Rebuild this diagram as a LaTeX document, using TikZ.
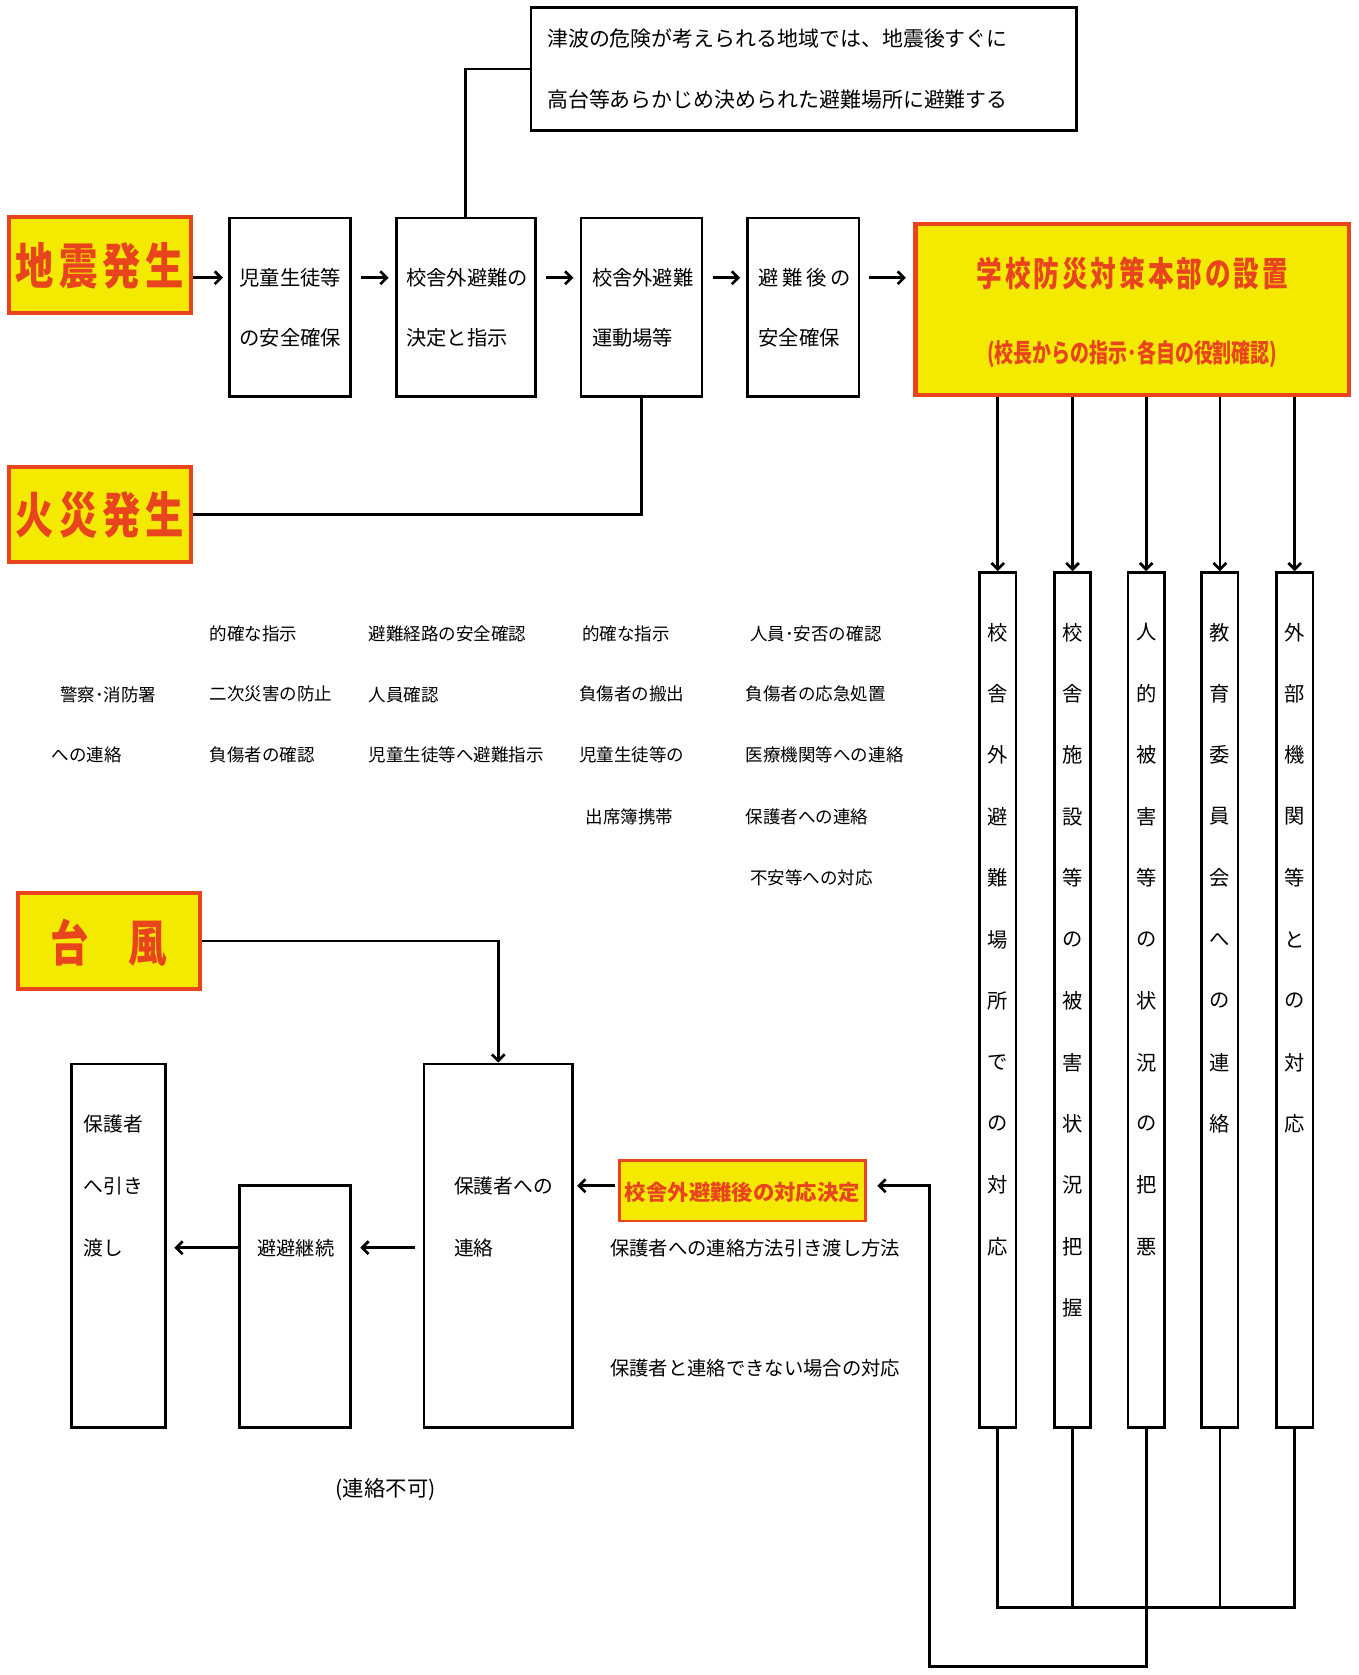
\documentclass[tikz,border=0pt]{standalone}
\usepackage{fontspec}
\usepackage{graphicx}
\setmainfont{Noto Sans CJK JP}
\usetikzlibrary{arrows.meta,calc}
\definecolor{yel}{RGB}{243,234,0}
\definecolor{redc}{RGB}{232,68,30}
\newcommand{\fs}[1]{\fontsize{#1}{#1}\selectfont}
\begin{document}
\begin{tikzpicture}[x=1pt,y=-1pt,
  bx/.style={draw=black, line width=2.5, inner sep=0, fill=white},
  yb/.style={draw=redc, fill=yel, line width=3.8, inner sep=0},
  tx/.style={inner sep=0, anchor=west, font=\fs{19}},
  sm/.style={inner sep=0, anchor=west, font=\fs{16.4}},
  vc/.style={inner sep=0, font=\fs{19}},
  ttl/.style={inner sep=0, text=redc, font=\fs{46}\bfseries},
  ln/.style={line width=2.5, line join=miter},
  arr/.style={ln, -{Straight Barb[length=6pt,width=12pt]}},
]
\useasboundingbox[fill=white] (0,0) rectangle (1272,1568);

% ---------- top row ----------
\node[yb, minimum width=171, minimum height=90] (jishin) at (93.5,248) {};
\node[ttl] (jishint) at (93.5,249) {\scalebox{0.78}[1]{地\hspace{6pt}震\hspace{6pt}発\hspace{6pt}生}};

\node[bx, minimum width=113, minimum height=167] (b1) at (271.5,287.5) {};
\node[tx] (b1a) at (224,260) {児童生徒等};
\node[tx] (b1b) at (224,316) {の安全確保};

\node[bx, minimum width=130, minimum height=167] (b2) at (436,287.5) {};
\node[tx] (b2a) at (380,260) {校舎外避難の};
\node[tx] (b2b) at (380,316) {決定と指示};

\node[bx, minimum width=113, minimum height=167] (b3) at (600.5,287.5) {};
\node[tx] (b3a) at (554,260) {校舎外避難};
\node[tx] (b3b) at (554,316) {運動場等};

\node[bx, minimum width=104, minimum height=167] (b4) at (752,287.5) {};
\node[tx] (b4a) at (710,260) {避\hspace{3.5pt}難\hspace{3.5pt}後\hspace{3.5pt}の};
\node[tx] (b4b) at (710,316) {安全確保};

\node[yb, minimum width=406, minimum height=160] (hq) at (1060,290) {};
\node[inner sep=0, text=redc, font=\fs{32}\bfseries] (hqa) at (1060,256)
  {\scalebox{0.75}[1]{学\hspace{3.7pt}校\hspace{3.7pt}防\hspace{3.7pt}災\hspace{3.7pt}対\hspace{3.7pt}策\hspace{3.7pt}本\hspace{3.7pt}部\hspace{3.7pt}の\hspace{3.7pt}設\hspace{3.7pt}置}};
\node[inner sep=0, text=redc, font=\fs{24}\bfseries] (hqb) at (1060,331)
  {\scalebox{0.74}[1]{(校長からの指示･各自の役割確認)}};

\node[bx, minimum width=511, minimum height=115] (tsu) at (752.5,64.5) {};
\node[tx, font=\fs{19.6}] (tsua) at (512,36) {津波の危険が考えられる地域では、地震後すぐに};
\node[tx, font=\fs{19.6}] (tsub) at (512,93) {高台等あらかじめ決められた避難場所に避難する};

\draw[arr, shorten >=5] (jishin.east |- 0,260) -- (b1.west |- 0,260);
\draw[arr, shorten <=9, shorten >=6] (b1.east |- 0,260) -- (b2.west |- 0,260);
\draw[arr, shorten <=9, shorten >=6] (b2.east |- 0,260) -- (b3.west |- 0,260);
\draw[arr, shorten <=9, shorten >=6] (b3.east |- 0,260) -- (b4.west |- 0,260);
\draw[arr, shorten <=8, shorten >=7] (b4.east |- 0,260) -- (hq.west |- 0,260);
\draw[ln] (b2.north) -- (b2.north |- tsu.west) -- (tsu.west);

% ---------- fire ----------
\node[yb, minimum width=171, minimum height=89] (kasai) at (93.5,481.5) {};
\node[ttl] (kasait) at (93.5,482) {\scalebox{0.78}[1]{火\hspace{6pt}災\hspace{6pt}発\hspace{6pt}生}};
\draw[ln] (kasai.east) -- (b3.south |- kasai.east) -- (b3.south);

% ---------- vertical boxes ----------
\foreach \n/\x in {v1/934, v2/1004, v3/1073, v4/1142, v5/1212}
  \node[bx, minimum width=34, minimum height=800] (\n) at (\x,936) {};
\foreach \n in {v1,v2,v3,v4,v5}
  \draw[arr] (\n.north |- hq.south) -- (\n.north);

\foreach \c [count=\i] in {校,舎,外,避,難,場,所,で,の,対,応}
  \node[vc] (v1t\i) at (934,{592+57.5*(\i-1)}) {\c};
\foreach \c [count=\i] in {校,舎,施,設,等,の,被,害,状,況,把,握}
  \node[vc] (v2t\i) at (1004,{592+57.5*(\i-1)}) {\c};
\foreach \c [count=\i] in {人,的,被,害,等,の,状,況,の,把,悪}
  \node[vc] (v3t\i) at (1073,{592+57.5*(\i-1)}) {\c};
\foreach \c [count=\i] in {教,育,委,員,会,へ,の,連,絡}
  \node[vc] (v4t\i) at (1142,{592+57.5*(\i-1)}) {\c};
\foreach \c [count=\i] in {外,部,機,関,等,と,の,対,応}
  \node[vc] (v5t\i) at (1212,{592+57.5*(\i-1)}) {\c};

% ---------- action lists ----------
\node[sm] (ca1) at (56,650) {警察･消防署};
\node[sm] (ca2) at (48,707) {への連絡};
\node[sm] (cb1) at (196,593) {的確な指示};
\node[sm] (cb2) at (196,650) {二次災害の防止};
\node[sm] (cb3) at (196,707) {負傷者の確認};
\node[sm] (cc1) at (345,593) {避難経路の安全確認};
\node[sm] (cc2) at (345,650) {人員確認};
\node[sm] (cc3) at (345,707) {児童生徒等へ避難指示};
\node[sm] (cd1) at (545,593) {的確な指示};
\node[sm] (cd2) at (542,650) {負傷者の搬出};
\node[sm] (cd3) at (542,707) {児童生徒等の};
\node[sm] (cd4) at (548,765) {出席簿携帯};
\node[sm] (ce1) at (702,593) {人員･安否の確認};
\node[sm] (ce2) at (698,650) {負傷者の応急処置};
\node[sm] (ce3) at (698,707) {医療機関等への連絡};
\node[sm] (ce4) at (698,765) {保護者への連絡};
\node[sm] (ce5) at (702,822) {不安等への対応};

% ---------- typhoon / lower part ----------
\node[yb, minimum width=170, minimum height=90] (typh) at (102,881) {};
\node[ttl] (typht) at (102,882) {\scalebox{0.78}[1]{台\hspace{48pt}風}};

\node[bx, minimum width=88, minimum height=340] (hand) at (111,1166) {};
\node[tx, font=\fs{18.5}] (handa) at (78,1052) {保護者};
\node[tx, font=\fs{18.5}] (handb) at (78,1110) {へ引き};
\node[tx, font=\fs{18.5}] (handc) at (78,1168) {渡し};

\node[bx, minimum width=104, minimum height=226] (cont) at (276,1223) {};
\node[inner sep=0, font=\fs{18}] (contt) at (277,1168) {避避継続};

\node[bx, minimum width=139, minimum height=340] (p2) at (466.5,1166) {};
\node[tx, font=\fs{18.5}] (p2a) at (425,1110) {保護者への};
\node[tx, font=\fs{18.5}] (p2b) at (425,1168) {連絡};

\node[yb, line width=2.6, minimum width=230, minimum height=57] (dec) at (695,1114.5) {};
\node[inner sep=0, text=redc, font=\fs{20}\bfseries] (dect) at (695,1116) {校舎外避難後の対応決定};

\node[tx, font=\fs{18.1}] (n1) at (571,1168) {保護者への連絡方法引き渡し方法};
\node[tx, font=\fs{18.1}] (n2) at (571,1281) {保護者と連絡できない場合の対応};
\node[inner sep=0, font=\fs{20}] (n3) at (361,1394) {(連絡不可)};

\draw[arr] (typh.east) -| (p2.north);
\draw[arr, shorten <=3, shorten >=3] (dec.west |- 0,1110) -- (p2.east |- 0,1110);
\draw[arr, shorten <=7, shorten >=8] (p2.west |- 0,1168) -- (cont.east |- 0,1168);
\draw[arr, shorten >=7] (cont.west |- 0,1168) -- (hand.east |- 0,1168);

% ---------- bottom feedback ----------
\coordinate (loop) at (870,1560);
\draw[ln] (v1.south) -- (v1.south |- 0,1505) -- (v5.south |- 0,1505) -- (v5.south);
\draw[ln] (v2.south) -- (v2.south |- 0,1505);
\draw[ln] (v4.south) -- (v4.south |- 0,1505);
\draw[arr, shorten >=10] (v3.south) |- (loop) |- (dec.east |- 0,1110);
\end{tikzpicture}
\end{document}
